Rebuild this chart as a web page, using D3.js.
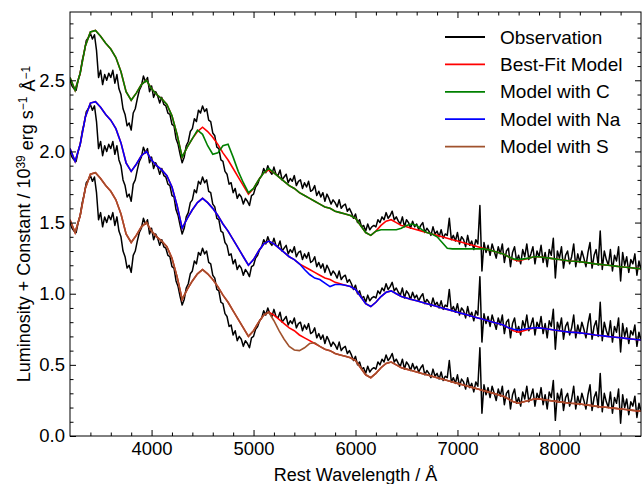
<!DOCTYPE html>
<html>
<head>
<meta charset="utf-8">
<script src="https://cdn.jsdelivr.net/npm/d3@7"></script>
<style>
  html, body { margin: 0; padding: 0; background: #fff; }
  svg { display: block; }
  text { font-family: "Liberation Sans", Arial, Helvetica, sans-serif; fill: #000; }
</style>
</head>
<body>
<svg id="chart" width="643" height="484"></svg>
<script>
// ---------------- DATA ----------------
// Observation grid: 3200..8800 Å, step 20 Å
const obsStart = 3200, obsStep = 20;
const obsFlux = [
1.50,1.46,1.44,1.43,1.50,1.55,1.64,1.70,1.78,1.80,
1.83,1.79,1.82,1.71,1.52,1.57,1.47,1.54,1.50,1.55,
1.52,1.57,1.48,1.54,1.44,1.40,1.30,1.26,1.18,1.20,
1.15,1.27,1.30,1.37,1.43,1.46,1.53,1.49,1.52,1.42,
1.46,1.38,1.42,1.39,1.34,1.38,1.33,1.32,1.27,1.26,
1.19,1.18,1.09,1.05,0.98,0.92,0.96,1.04,1.07,1.14,
1.16,1.23,1.21,1.29,1.27,1.32,1.28,1.30,1.22,1.21,
1.13,1.11,1.03,1.02,0.94,0.93,0.86,0.84,0.77,0.78,
0.71,0.74,0.67,0.70,0.68,0.63,0.67,0.65,0.62,0.69,
0.70,0.75,0.77,0.81,0.83,0.88,0.85,0.90,0.86,0.84,
0.89,0.84,0.83,0.87,0.80,0.82,0.84,0.78,0.81,0.79,
0.83,0.76,0.79,0.80,0.74,0.78,0.75,0.79,0.72,0.73,
0.76,0.69,0.72,0.68,0.71,0.65,0.70,0.67,0.63,0.66,
0.64,0.61,0.66,0.60,0.62,0.63,0.58,0.60,0.57,0.53,
0.56,0.50,0.52,0.47,0.48,0.44,0.49,0.45,0.47,0.48,
0.47,0.52,0.50,0.54,0.52,0.57,0.53,0.55,0.58,0.52,
0.54,0.51,0.49,0.54,0.47,0.52,0.50,0.46,0.51,0.47,
0.49,0.45,0.48,0.50,0.43,0.46,0.44,0.41,0.47,0.42,
0.44,0.40,0.45,0.39,0.42,0.41,0.53,0.38,0.41,0.37,
0.43,0.35,0.40,0.38,0.33,0.41,0.34,0.37,0.31,0.38,
0.35,0.62,0.16,0.36,0.29,0.34,0.27,0.35,0.30,0.25,
0.33,0.28,0.35,0.22,0.30,0.32,0.19,0.29,0.33,0.23,
0.27,0.21,0.31,0.26,0.35,0.24,0.28,0.33,0.21,0.30,
0.26,0.34,0.22,0.29,0.19,0.31,0.27,0.39,0.11,0.30,
0.25,0.33,0.18,0.27,0.30,0.21,0.26,0.35,0.19,0.28,
0.22,0.30,0.25,0.19,0.29,0.36,0.18,0.27,0.31,0.20,
0.44,0.17,0.30,0.24,0.20,0.31,0.16,0.27,0.23,0.33,
0.09,0.29,0.20,0.26,0.15,0.24,0.21,0.28,0.13,0.23,
0.17
];

// Model grid: 3200..8800 Å, step 50 Å
const modelStart = 3200, modelStep = 50;
const bestFit = [
1.52,1.43,1.55,1.74,1.84,1.85,1.81,1.76,1.72,1.66,
1.56,1.42,1.36,1.41,1.47,1.50,1.44,1.40,1.37,1.33,
1.25,1.12,0.96,1.03,1.09,1.14,1.17,1.14,1.10,1.05,
0.99,0.94,0.88,0.82,0.76,0.70,0.74,0.80,0.85,0.87,
0.85,0.82,0.79,0.76,0.74,0.71,0.69,0.67,0.65,0.63,
0.61,0.60,0.58,0.57,0.56,0.55,0.53,0.48,0.43,0.41,
0.44,0.48,0.51,0.52,0.50,0.48,0.47,0.46,0.45,0.44,
0.43,0.42,0.41,0.40,0.39,0.38,0.37,0.36,0.35,0.34,
0.33,0.32,0.31,0.30,0.29,0.28,0.26,0.24,0.23,0.24,
0.25,0.26,0.26,0.255,0.25,0.245,0.24,0.235,0.23,0.228,
0.225,0.22,0.215,0.21,0.206,0.202,0.198,0.194,0.19,0.186,
0.182,0.178,0.175
];
const modelC = [
1.52,1.43,1.55,1.74,1.84,1.85,1.81,1.76,1.72,1.66,
1.56,1.42,1.36,1.41,1.47,1.50,1.44,1.40,1.37,1.33,
1.25,1.12,0.96,1.03,1.09,1.15,1.12,1.04,0.98,0.99,
1.04,1.05,0.96,0.86,0.78,0.71,0.74,0.80,0.85,0.88,
0.85,0.82,0.79,0.76,0.74,0.71,0.69,0.67,0.65,0.63,
0.61,0.60,0.58,0.57,0.56,0.55,0.53,0.48,0.43,0.41,
0.44,0.45,0.45,0.45,0.45,0.46,0.48,0.49,0.48,0.45,
0.43,0.42,0.40,0.36,0.32,0.315,0.315,0.315,0.315,0.315,
0.315,0.315,0.31,0.30,0.29,0.28,0.26,0.245,0.24,0.245,
0.25,0.26,0.26,0.255,0.25,0.245,0.24,0.235,0.23,0.228,
0.225,0.22,0.215,0.21,0.206,0.202,0.198,0.194,0.19,0.186,
0.182,0.178,0.175
];
const modelNa = [
1.52,1.43,1.55,1.74,1.84,1.85,1.81,1.76,1.72,1.66,
1.56,1.42,1.36,1.41,1.47,1.50,1.44,1.40,1.37,1.33,
1.25,1.12,0.96,1.03,1.09,1.14,1.17,1.14,1.10,1.05,
0.99,0.94,0.88,0.82,0.76,0.70,0.74,0.80,0.85,0.87,
0.85,0.82,0.79,0.76,0.74,0.71,0.67,0.635,0.61,0.60,
0.575,0.55,0.565,0.565,0.56,0.55,0.53,0.48,0.43,0.41,
0.44,0.48,0.51,0.52,0.50,0.48,0.47,0.46,0.45,0.44,
0.43,0.42,0.41,0.40,0.39,0.38,0.37,0.36,0.35,0.34,
0.33,0.32,0.31,0.30,0.29,0.28,0.26,0.25,0.245,0.25,
0.255,0.26,0.26,0.255,0.25,0.245,0.24,0.235,0.23,0.228,
0.225,0.22,0.215,0.21,0.206,0.202,0.198,0.194,0.19,0.186,
0.182,0.178,0.175
];
const modelS = [
1.52,1.43,1.55,1.74,1.84,1.85,1.81,1.76,1.72,1.66,
1.56,1.42,1.36,1.41,1.47,1.50,1.44,1.40,1.37,1.33,
1.25,1.12,0.96,1.03,1.09,1.14,1.17,1.14,1.10,1.05,
0.99,0.94,0.88,0.82,0.76,0.70,0.74,0.80,0.85,0.87,
0.81,0.74,0.68,0.63,0.605,0.60,0.62,0.65,0.655,0.63,
0.61,0.60,0.58,0.57,0.56,0.55,0.53,0.48,0.43,0.41,
0.44,0.48,0.51,0.52,0.50,0.48,0.47,0.46,0.45,0.44,
0.43,0.42,0.41,0.40,0.39,0.38,0.37,0.36,0.35,0.34,
0.33,0.32,0.31,0.30,0.29,0.28,0.26,0.24,0.23,0.24,
0.25,0.26,0.26,0.255,0.25,0.245,0.24,0.235,0.23,0.228,
0.225,0.22,0.215,0.21,0.206,0.202,0.198,0.194,0.19,0.186,
0.182,0.178,0.175
];

// vertical offsets of the three stacked comparisons (bottom, middle, top)
const panelOffsets = [0.0, 0.5, 1.0];
const panelVariants = ["S", "Na", "C"];

const seriesNames = ["Observation", "Best-Fit Model", "Model with C", "Model with Na", "Model with S"];
const seriesColors = ["#000000", "#ff0000", "#008000", "#0000ff", "#a0522d"];

const xTicksMajor = [4000, 5000, 6000, 7000, 8000];
const yTicksMajor = [0.0, 0.5, 1.0, 1.5, 2.0, 2.5];

// ---------------- CHART ----------------
const svg = d3.select("#chart");
const L = 70, R = 641, T = 12, B = 436;
const x = d3.scaleLinear().domain([3200, 8800]).range([L, R]);
const y = d3.scaleLinear().domain([0, 2.98]).range([B, T]);

const variantData = { C: modelC, Na: modelNa, S: modelS };
const variantColor = { C: seriesColors[2], Na: seriesColors[3], S: seriesColors[4] };

svg.append("defs").append("clipPath").attr("id", "clip")
  .append("rect").attr("x", L).attr("y", T).attr("width", R - L).attr("height", B - T);

const plot = svg.append("g").attr("clip-path", "url(#clip)");

const toPts = (arr, start, step, off) => arr.map((v, i) => [start + i * step, v + off]);
const line = d3.line().x(d => x(d[0])).y(d => y(d[1]));

panelOffsets.forEach((off, k) => {
  const g = plot.append("g");
  g.append("path").attr("d", line(toPts(obsFlux, obsStart, obsStep, off)))
    .attr("fill", "none").attr("stroke", seriesColors[0]).attr("stroke-width", 1.5)
    .attr("stroke-linejoin", "round");
  g.append("path").attr("d", line(toPts(bestFit, modelStart, modelStep, off)))
    .attr("fill", "none").attr("stroke", seriesColors[1]).attr("stroke-width", 1.6);
  const vk = panelVariants[k];
  g.append("path").attr("d", line(toPts(variantData[vk], modelStart, modelStep, off)))
    .attr("fill", "none").attr("stroke", variantColor[vk]).attr("stroke-width", 1.6);
});

// frame
svg.append("rect").attr("x", L).attr("y", T).attr("width", R - L).attr("height", B - T)
  .attr("fill", "none").attr("stroke", "#000").attr("stroke-width", 1);

const xMinor = d3.range(3400, 8800, 200).filter(v => !xTicksMajor.includes(v));
const yMinor = d3.range(1, 30).map(i => i / 10).filter(v => Math.abs(v * 2 - Math.round(v * 2)) > 1e-6);

function styleAxis(g) {
  g.select(".domain").remove();
  g.selectAll("line").attr("stroke", "#000").attr("stroke-width", 1);
  g.selectAll("text").attr("font-size", "18.5px").attr("fill", "#000")
    .attr("font-family", '"Liberation Sans", Arial, sans-serif');
}

// bottom
svg.append("g").attr("transform", `translate(0,${B})`)
  .call(d3.axisBottom(x).tickValues(xTicksMajor).tickSize(-6).tickPadding(6).tickFormat(d3.format("d")))
  .call(styleAxis);
svg.append("g").attr("transform", `translate(0,${B})`)
  .call(d3.axisBottom(x).tickValues(xMinor).tickSize(-3.5).tickFormat(""))
  .call(styleAxis);
// top
svg.append("g").attr("transform", `translate(0,${T})`)
  .call(d3.axisTop(x).tickValues(xTicksMajor).tickSize(-6).tickFormat(""))
  .call(styleAxis);
svg.append("g").attr("transform", `translate(0,${T})`)
  .call(d3.axisTop(x).tickValues(xMinor).tickSize(-3.5).tickFormat(""))
  .call(styleAxis);
// left
svg.append("g").attr("transform", `translate(${L},0)`)
  .call(d3.axisLeft(y).tickValues(yTicksMajor).tickSize(-6).tickPadding(5).tickFormat(d3.format(".1f")))
  .call(styleAxis);
svg.append("g").attr("transform", `translate(${L},0)`)
  .call(d3.axisLeft(y).tickValues(yMinor).tickSize(-3.5).tickFormat(""))
  .call(styleAxis);
// right
svg.append("g").attr("transform", `translate(${R},0)`)
  .call(d3.axisRight(y).tickValues(yTicksMajor).tickSize(-6).tickFormat(""))
  .call(styleAxis);
svg.append("g").attr("transform", `translate(${R},0)`)
  .call(d3.axisRight(y).tickValues(yMinor).tickSize(-3.5).tickFormat(""))
  .call(styleAxis);

// axis labels
svg.append("text").attr("x", (L + R) / 2).attr("y", 481).attr("text-anchor", "middle")
  .attr("font-size", "18px").text("Rest Wavelength / Å");

const yl = svg.append("text").attr("transform", `translate(30,${(T + B) / 2}) rotate(-90)`)
  .attr("text-anchor", "middle").attr("font-size", "18px");
yl.append("tspan").text("Luminosity + Constant / 10");
yl.append("tspan").attr("dy", "-0.45em").attr("font-size", "12px").text("39");
yl.append("tspan").attr("dy", "0.45em").text(" erg s");
yl.append("tspan").attr("dy", "-0.45em").attr("font-size", "12px").text("−1");
yl.append("tspan").attr("dy", "0.45em").text(" Å");
yl.append("tspan").attr("dy", "-0.45em").attr("font-size", "12px").text("−1");

// legend
const leg = svg.append("g");
seriesNames.forEach((name, i) => {
  const cy = 37 + i * 27.4;
  leg.append("line").attr("x1", 445).attr("x2", 485).attr("y1", cy).attr("y2", cy)
    .attr("stroke", seriesColors[i]).attr("stroke-width", 1.8);
  leg.append("text").attr("x", 500).attr("y", cy).attr("dy", "0.35em")
    .attr("font-size", "19px").text(name);
});
</script>
</body>
</html>
